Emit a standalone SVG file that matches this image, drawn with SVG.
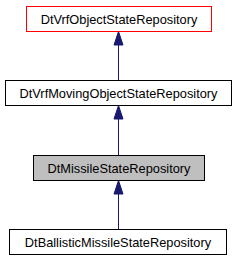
<svg xmlns="http://www.w3.org/2000/svg" width="237" height="261" viewBox="0 0 237 261">
<defs>
<style>
.n rect{fill:#fff;stroke:#000;stroke-width:1}
.n text{font-family:"Liberation Sans",Arial,sans-serif;font-size:12.8px;text-anchor:middle;fill:#000}
.e path{fill:none;stroke:#191970;stroke-width:1}
.e polygon{fill:#191970;stroke:#191970;stroke-width:1}
</style>
</defs>
<rect width="237" height="261" fill="#fff"/>
<g class="e" id="edges">
<path d="M118.5,80 V45"/><polygon points="118.5,31.5 114,45 123,45"/>
<path d="M118.5,155 V119"/><polygon points="118.5,105.5 114,119 123,119"/>
<path d="M118.5,229 V194"/><polygon points="118.5,180.5 114,194 123,194"/>
</g>
<g class="n" id="node1"><rect x="26.5" y="6.5" width="185" height="25" style="stroke:#ff0000"/><text x="119" y="23.5">DtVrfObjectStateRepository</text></g>
<g class="n" id="node2"><rect x="5.5" y="80.5" width="226" height="25"/><text x="118.5" y="97.5">DtVrfMovingObjectStateRepository</text></g>
<g class="n" id="node3"><rect x="33.5" y="155.5" width="171" height="25" style="fill:#bfbfbf"/><text x="119" y="172.5">DtMissileStateRepository</text></g>
<g class="n" id="node4"><rect x="9.5" y="229.5" width="217" height="25"/><text x="118" y="246.5">DtBallisticMissileStateRepository</text></g>
</svg>
